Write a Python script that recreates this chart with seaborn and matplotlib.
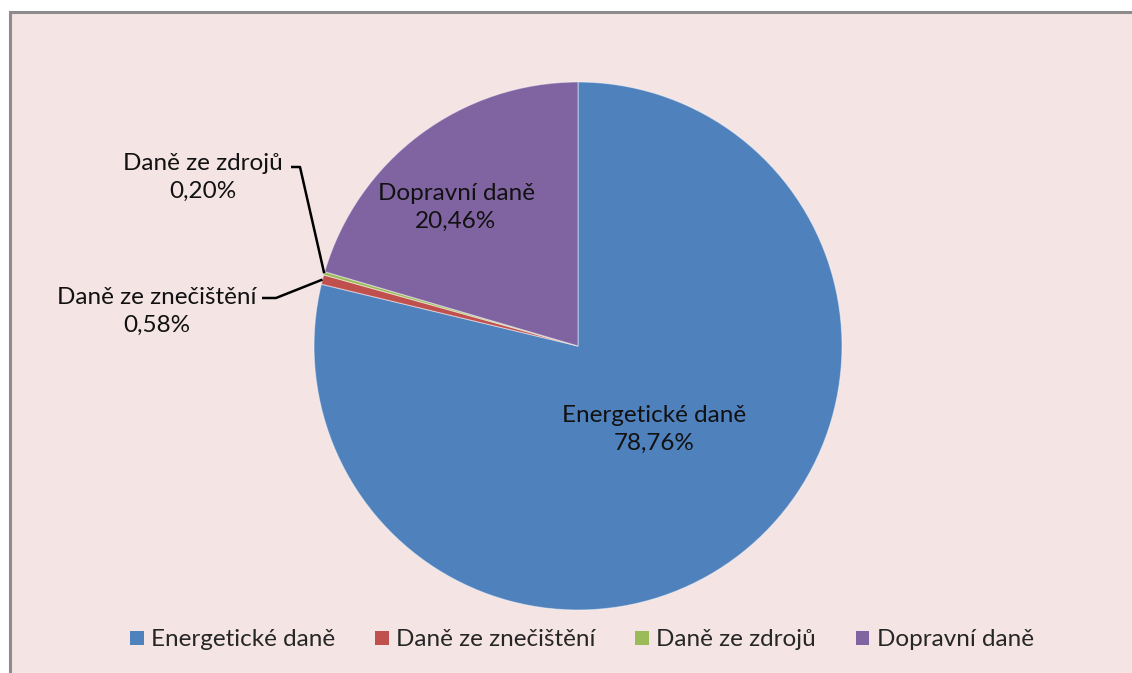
import matplotlib
matplotlib.use("Agg")
import matplotlib.pyplot as plt
from matplotlib.patches import Rectangle, Patch
import numpy as np
import seaborn as sns

# Shares of environmental tax revenue (%)
categories = ["Energetické daně", "Daně ze znečištění", "Daně ze zdrojů", "Dopravní daně"]
shares = [78.76, 0.58, 0.20, 20.46]
colors = ["#4F81BD", "#C0504D", "#9BBB59", "#8064A2"]

sns.set_style("white")
plt.rcParams["font.family"] = ["Lato", "DejaVu Sans"]

W, H = 1132, 673
fig = plt.figure(figsize=(W / 100, H / 100), dpi=100, facecolor="white")
ax = fig.add_axes([0, 0, 1, 1])

# chart area with grey frame
ax.add_patch(Rectangle((9.5, -10), W, H - 11.5 + 10, facecolor="#F4E4E4",
                       edgecolor="#8C8C8C", linewidth=2.2, zorder=0))

cx, cy, r = 578, H - 346, 264
ax.pie(shares, colors=colors, startangle=90, counterclock=False,
       center=(cx, cy), radius=r, frame=True,
       wedgeprops=dict(linewidth=0.8, edgecolor=(1, 1, 1, 0.45)))
ax.set_xlim(0, W)
ax.set_ylim(0, H)
ax.set_aspect("auto")
ax.axis("off")

def fmt(v):
    return f"{v:.2f}".replace(".", ",") + "%"

fs = 17.5
txt = dict(fontsize=fs, color="#111111", linespacing=1.4, ha="center", va="center")

# labels inside the large slices
inside = {0: (654, 429), 3: (456, 207)}
for i, (x, y) in inside.items():
    ax.text(x, H - y, f"{categories[i]}\n{fmt(shares[i])}", **txt)

# labels with leader lines for the thin slices
cum = np.cumsum([0] + shares)
outside = {1: ((157, 311), (262, 298), (276, 298)),
           2: ((203, 177), (291, 167), (300, 167))}
for i, (tpos, p0, p1) in outside.items():
    mid = 90 - 360 * (cum[i] + shares[i] / 2) / 100
    ex = cx + r * np.cos(np.radians(mid))
    ey = cy + r * np.sin(np.radians(mid))
    ax.plot([p0[0], p1[0], ex], [H - p0[1], H - p1[1], ey], color="black", lw=1.8,
            solid_capstyle="butt", zorder=5)
    ax.text(tpos[0], H - tpos[1], f"{categories[i]}\n{fmt(shares[i])}", **txt)

handles = [Patch(facecolor=c, edgecolor="none") for c in colors]
ax.legend(handles, categories, loc="center", bbox_to_anchor=(582 / W, 1 - 640 / H),
          ncol=4, frameon=False, fontsize=fs, handlelength=0.55, handleheight=0.55,
          handletextpad=0.3, columnspacing=1.65)

fig.savefig("out.png", dpi=100, facecolor="white")
